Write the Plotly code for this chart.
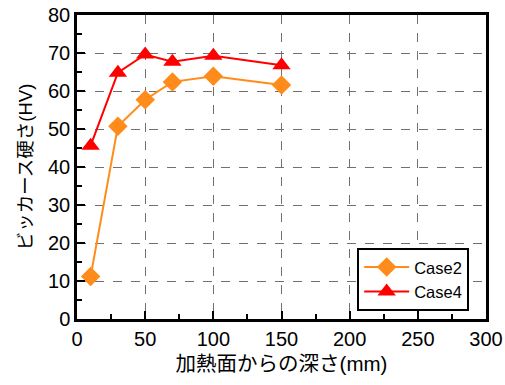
import plotly.graph_objects as go

depth = [10, 30, 50, 70, 100, 150]
case2 = [11.2, 50.7, 57.7, 62.4, 63.9, 61.6]
case4 = [45.6, 64.8, 69.6, 67.7, 69.3, 66.8]
series_names = ["Case2", "Case4"]

FONT = "Liberation Sans, Arial, Noto Sans CJK JP, sans-serif"

fig = go.Figure()
fig.add_trace(go.Scatter(x=depth, y=case2, name=series_names[0], mode="lines+markers",
                         line=dict(color="#FF8C1A", width=2),
                         marker=dict(symbol="diamond", size=15, color="#FF8C1A")))
fig.add_trace(go.Scatter(x=depth, y=case4, name=series_names[1], mode="lines+markers",
                         line=dict(color="#FF0000", width=2),
                         marker=dict(symbol="triangle-up", size=16, color="#FF0000")))

axis_common = dict(showline=True, linecolor="black", linewidth=2.5, mirror=True,
                   ticks="inside", ticklen=8, tickwidth=2, tickcolor="black",
                   showgrid=True, gridcolor="#707070", griddash="dash", gridwidth=1,
                   zeroline=False, automargin=False,
                   tickfont=dict(size=20, color="black", family=FONT))

fig.update_xaxes(range=[0, 300], dtick=50, tick0=0,
                 minor=dict(ticks="inside", dtick=25, ticklen=5, tickwidth=2, tickcolor="black", showgrid=False),
                 title=dict(text="加熱面からの深さ(mm)", font=dict(size=20.5, family=FONT, color="black"), standoff=8),
                 **axis_common)
fig.update_yaxes(range=[0, 80], dtick=10, tick0=0,
                 minor=dict(ticks="inside", dtick=5, ticklen=5, tickwidth=2, tickcolor="black", showgrid=False),
                 title=dict(text="ビッカース硬さ(HV)", font=dict(size=18.5, family=FONT, color="black"), standoff=11),
                 **axis_common)

fig.update_layout(width=505, height=385, margin=dict(l=77, r=19, t=15, b=66),
                  plot_bgcolor="white", paper_bgcolor="white",
                  font=dict(family=FONT, color="black"),
                  legend=dict(x=0.685, y=0.234, xanchor="left", yanchor="top",
                              bgcolor="white", bordercolor="black", borderwidth=2,
                              font=dict(size=16.5, family=FONT, color="black"),
                              itemwidth=45, tracegroupgap=2))

fig.write_html("out.html", config={"displayModeBar": False},
               post_script="document.body.style.margin='0';document.body.style.padding='0';")
